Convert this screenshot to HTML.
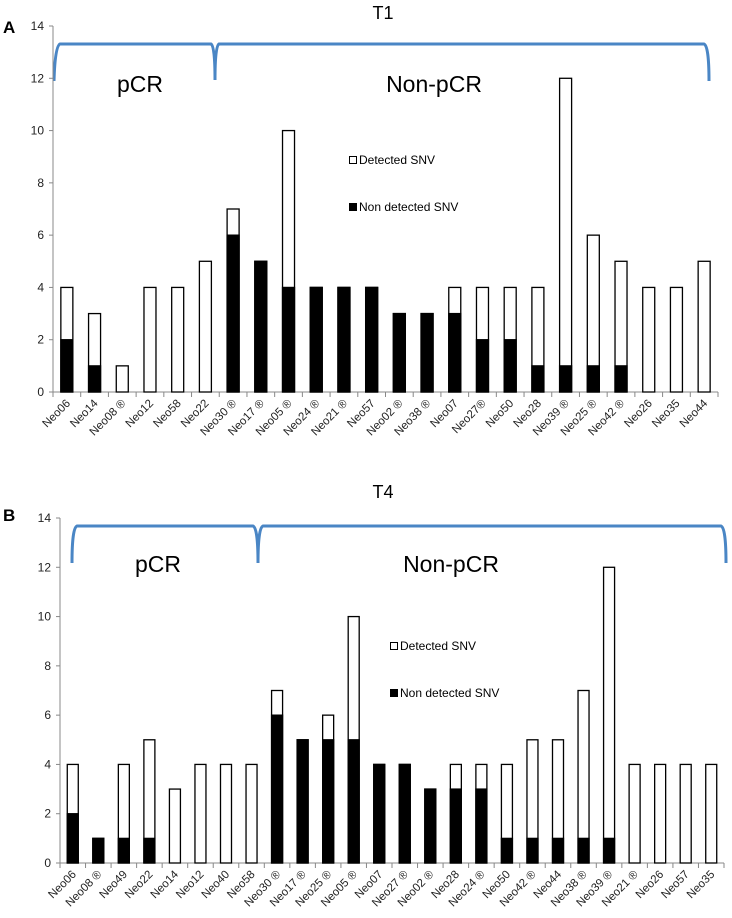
<!DOCTYPE html>
<html><head><meta charset="utf-8"><style>
body{margin:0;background:#fff;}
svg{display:block;font-family:"Liberation Sans",sans-serif;}
</style></head><body>
<svg id="svg" width="732" height="918">
<text x="3" y="33" font-size="17" font-weight="bold">A</text>
<text x="3" y="521" font-size="17" font-weight="bold">B</text>
<text x="383" y="19" font-size="18" text-anchor="middle">T1</text>
<text x="383" y="498" font-size="18" text-anchor="middle">T4</text>
<path d="M54,81 Q55,46 60,44 L211,44 Q215,46 215,80 Q215,46 219,44 L704,44 Q709,46 709,81" fill="none" stroke="#4a86c5" stroke-width="3"/>
<path d="M72,563 Q72,528 77,526 L253,526 Q258,528 258,563 Q258,528 263,526 L721,526 Q726,528 726,563" fill="none" stroke="#4a86c5" stroke-width="3"/>
<text x="140" y="92" font-size="23" text-anchor="middle">pCR</text>
<text x="434" y="92" font-size="23" text-anchor="middle">Non-pCR</text>
<text x="158" y="572" font-size="23" text-anchor="middle">pCR</text>
<text x="451" y="572" font-size="23" text-anchor="middle">Non-pCR</text>
<g>
<rect x="349.5" y="156.5" width="7" height="7" fill="#fff" stroke="#000"/>
<text x="359" y="164" font-size="12">Detected SNV</text>
<rect x="349" y="203" width="8" height="8" fill="#000"/>
<text x="359" y="211" font-size="12">Non detected SNV</text>
</g>
<g>
<rect x="390.5" y="642.5" width="7" height="7" fill="#fff" stroke="#000"/>
<text x="400" y="650" font-size="12">Detected SNV</text>
<rect x="390" y="689" width="8" height="8" fill="#000"/>
<text x="400" y="697" font-size="12">Non detected SNV</text>
</g>
</svg>
<script>
const t1Cats=["Neo06","Neo14","Neo08 ®","Neo12","Neo58","Neo22","Neo30 ®","Neo17 ®","Neo05 ®","Neo24 ®","Neo21 ®","Neo57","Neo02 ®","Neo38 ®","Neo07","Neo27®","Neo50","Neo28","Neo39 ®","Neo25 ®","Neo42 ®","Neo26","Neo35","Neo44"];
const t1Total=[4,3,1,4,4,5,7,5,10,4,4,4,3,3,4,4,4,4,12,6,5,4,4,5];
const t1NonDet=[2,1,0,0,0,0,6,5,4,4,4,4,3,3,3,2,2,1,1,1,1,0,0,0];
const t4Cats=["Neo06","Neo08 ®","Neo49","Neo22","Neo14","Neo12","Neo40","Neo58","Neo30 ®","Neo17 ®","Neo25 ®","Neo05 ®","Neo07","Neo27 ®","Neo02 ®","Neo28","Neo24 ®","Neo50","Neo42 ®","Neo44","Neo38 ®","Neo39 ®","Neo21 ®","Neo26","Neo57","Neo35"];
const t4Total=[4,1,4,5,3,4,4,4,7,5,6,10,4,4,3,4,4,4,5,5,7,12,4,4,4,4];
const t4NonDet=[2,1,1,1,0,0,0,0,6,5,5,5,4,4,3,3,3,1,1,1,1,1,0,0,0,0];
const yTicks=[0,2,4,6,8,10,12,14];
const NS="http://www.w3.org/2000/svg";
const svg=document.getElementById('svg');
function mk(tag,attrs,parent){const e=document.createElementNS(NS,tag);for(const k in attrs)e.setAttribute(k,attrs[k]);parent.appendChild(e);return e;}
function chart(id,cats,tot,nd,x0,x1,y0,y14,barW){
  const g=mk('g',{},svg);
  
  
  const n=cats.length,step=(x1-x0)/n;
  const ys=v=>y0+(y14-y0)*v/14;
  const xs=i=>x0+step*(i+0.5);
  const ax=mk('line',{x1:x0,y1:y14,x2:x0,y2:y0,stroke:'#888','stroke-width':1},g);
  
  
  yTicks.forEach(t=>{
    mk('line',{x1:x0-4,x2:x0,y1:ys(t),y2:ys(t),stroke:'#888'},g);
    const tx=mk('text',{x:x0-9,y:ys(t)+4,'font-size':12,'text-anchor':'end',fill:'#222'},g);
    tx.textContent=t;
    
    
  });
  const xa=mk('line',{x1:x0,y1:y0,x2:x1,y2:y0,stroke:'#888'},g);
  
  
  for(let i=0;i<=n;i++)mk('line',{x1:x0+step*i,x2:x0+step*i,y1:y0,y2:y0+5,stroke:'#888'},g);
  cats.forEach((c,i)=>{
    const cx=xs(i);
    const r=mk('rect',{x:cx-barW/2,y:ys(tot[i]),width:barW,height:ys(0)-ys(tot[i]),fill:'#fff',stroke:'#000','stroke-width':1.3},g);
    
    
    if(nd[i]>0){
      const b=mk('rect',{x:cx-barW/2,y:ys(nd[i]),width:barW,height:ys(0)-ys(nd[i]),fill:'#000',stroke:'#000','stroke-width':1.3},g);
      
      
    }
    const lx=cx+4,ly=y0+12;
    const t=mk('text',{x:lx,y:ly,'font-size':11.5,'text-anchor':'end',transform:`rotate(-45 ${lx} ${ly})`,fill:'#222'},g);
    t.textContent=c;
    
    
  });
}
chart('t1',t1Cats,t1Total,t1NonDet,53,718,392,26,12);
chart('t4',t4Cats,t4Total,t4NonDet,60,724,863,518,11);
</script>
</body></html>
